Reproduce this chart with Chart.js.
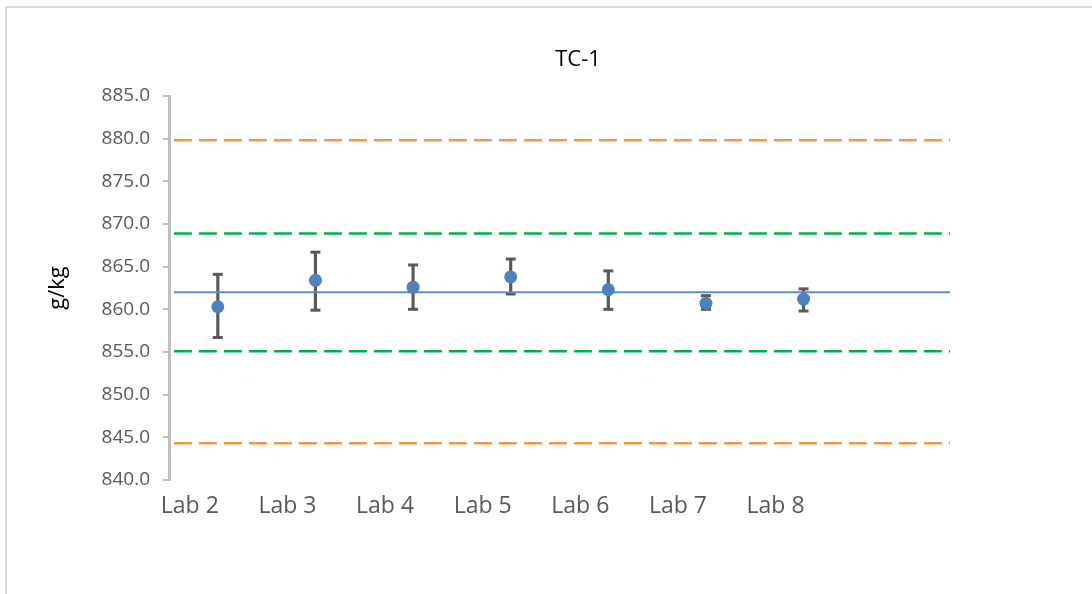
<!DOCTYPE html>
<html>
<head>
<meta charset="utf-8">
<script src="https://cdn.jsdelivr.net/npm/chart.js@4/dist/chart.umd.min.js"></script>
<style>
  body { margin: 0; background: #fff; }
  #wrap { position: relative; width: 1092px; height: 594px; overflow: hidden; }
  #frame { position: absolute; left: 5px; top: 6px; width: 1200px; height: 700px;
           border-top: 2px solid #d9d9d9; border-left: 2px solid #d9d9d9; }
  canvas { position: absolute; left: 0; top: 0; }
</style>
</head>
<body>
<div id="wrap">
  <div id="frame"></div>
  <canvas id="myChart" width="1092" height="594"></canvas>
</div>
<script>
// Lab results with their uncertainty ranges
const labs = ['Lab 2', 'Lab 3', 'Lab 4', 'Lab 5', 'Lab 6', 'Lab 7', 'Lab 8'];
const results = [860.3, 863.4, 862.6, 863.8, 862.3, 860.7, 861.2];
const errLow = [856.7, 859.9, 860.0, 861.8, 860.0, 860.0, 859.8];
const errHigh = [864.1, 866.7, 865.2, 865.9, 864.5, 861.6, 862.4];

// reference values
const assigned = 862.0;
const warnLimits = [868.9, 855.1];
const actionLimits = [879.8, 844.3];

const yTicks = [840, 845, 850, 855, 860, 865, 870, 875, 880, 885];

const xStart = 0.55, xEnd = 8.5;
const hLine = (y) => [{ x: xStart, y: y }, { x: xEnd, y: y }];

const dash = [18, 7];
const font = '"Open Sans", "Liberation Sans", sans-serif';

// chart title drawn above the plot
const titlePlugin = {
    id: 'tcTitle',
    afterDraw(chart) {
        const ctx = chart.ctx;
        ctx.save();
        ctx.font = '22px ' + font;
        ctx.fillStyle = '#000';
        ctx.textAlign = 'center';
        ctx.textBaseline = 'alphabetic';
        ctx.fillText('TC-1', 578, 66);
        ctx.restore();
    }
};

document.addEventListener('DOMContentLoaded', () => {
    const ctx = document.getElementById('myChart').getContext('2d');

    new Chart(ctx, {
        data: {
            datasets: [
                {
                    type: 'scatter',
                    data: results.map((v, i) => ({ x: i + 1, y: v })),
                    backgroundColor: '#4f81bd',
                    borderWidth: 0,
                    pointRadius: 6.5,
                    order: 0
                },
                {
                    type: 'scatter',
                    data: errLow.map((v, i) => ({ x: i + 1, y: v }))
                        .concat(errHigh.map((v, i) => ({ x: i + 1, y: v }))),
                    pointStyle: 'line',
                    pointRadius: 5,
                    borderColor: '#595959',
                    borderWidth: 3,
                    order: 3
                },
                {
                    type: 'bar',
                    data: labs.map((_, i) => ({ x: i + 1, y: [errLow[i], errHigh[i]] })),
                    backgroundColor: '#595959',
                    barThickness: 2.5,
                    order: 4
                },
                {
                    type: 'line',
                    data: hLine(assigned),
                    borderColor: '#5b8ed6',
                    borderWidth: 2,
                    pointRadius: 0,
                    order: 1
                },
                {
                    type: 'line',
                    data: hLine(warnLimits[0]),
                    borderColor: '#00b050',
                    borderWidth: 2.5,
                    borderDash: dash,
                    pointRadius: 0,
                    order: 2
                },
                {
                    type: 'line',
                    data: hLine(warnLimits[1]),
                    borderColor: '#00b050',
                    borderWidth: 2.5,
                    borderDash: dash,
                    pointRadius: 0,
                    order: 2
                },
                {
                    type: 'line',
                    data: hLine(actionLimits[0]),
                    borderColor: '#f79646',
                    borderWidth: 2.5,
                    borderDash: dash,
                    pointRadius: 0,
                    order: 2
                },
                {
                    type: 'line',
                    data: hLine(actionLimits[1]),
                    borderColor: '#f79646',
                    borderWidth: 2.5,
                    borderDash: dash,
                    pointRadius: 0,
                    order: 2
                }
            ]
        },
        options: {
            responsive: false,
            animation: false,
            layout: {
                padding: { left: 20, right: 142, top: 96, bottom: 54 }
            },
            plugins: {
                legend: { display: false },
                tooltip: { enabled: false }
            },
            scales: {
                x: {
                    type: 'linear',
                    min: 0.5,
                    max: 8.5,
                    offset: false,
                    grid: { display: false, drawTicks: false, offset: false },
                    border: { display: false },
                    afterBuildTicks: (scale) => {
                        scale.ticks = labs.map((_, i) => ({ value: i + 1 }));
                    },
                    afterFit: (scale) => { scale.height = 60; },
                    ticks: {
                        autoSkip: false,
                        maxRotation: 0,
                        labelOffset: -28,
                        padding: 13,
                        color: '#595959',
                        font: { family: font, size: 23 },
                        callback: (value) => labs[value - 1] || ''
                    }
                },
                y: {
                    type: 'linear',
                    min: 840,
                    max: 885,
                    afterBuildTicks: (scale) => {
                        scale.ticks = yTicks.map(v => ({ value: v }));
                    },
                    afterFit: (scale) => { scale.width = 149; },
                    grid: {
                        drawOnChartArea: false,
                        drawTicks: true,
                        tickLength: 6,
                        color: '#bfbfbf',
                        lineWidth: 2
                    },
                    border: { display: true, color: '#bfbfbf', width: 3 },
                    ticks: {
                        padding: 13,
                        color: '#595959',
                        font: { family: font, size: 19 },
                        callback: (value) => value.toFixed(1)
                    },
                    title: {
                        display: true,
                        text: 'g/kg',
                        color: '#000',
                        padding: { top: 25, bottom: 0 },
                        font: { family: font, size: 22 }
                    }
                }
            }
        },
        plugins: [titlePlugin]
    });
});
</script>
</body>
</html>
